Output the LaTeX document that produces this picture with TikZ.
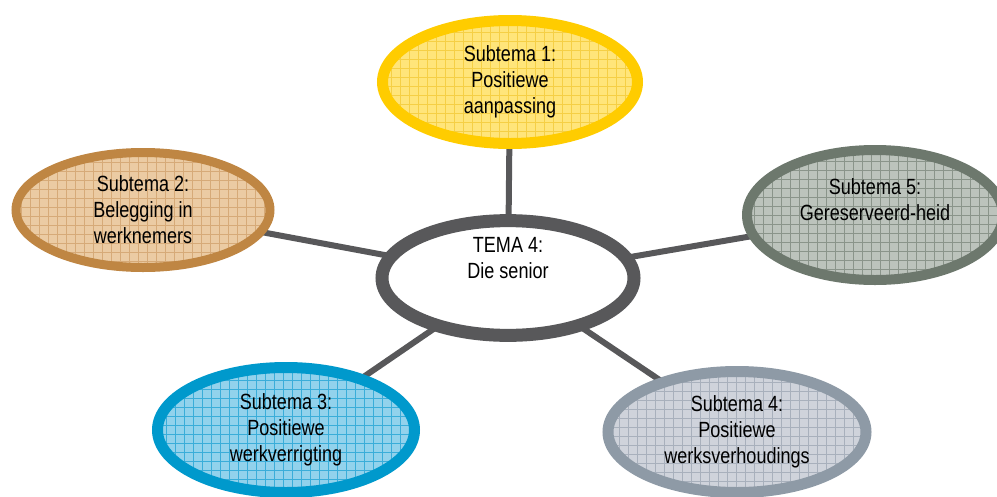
\documentclass[tikz,border=0pt]{standalone}
\usepackage{fontspec}
\setmainfont{Liberation Sans}[FakeStretch=0.82]
\usetikzlibrary{shapes.geometric}
\definecolor{cline}{HTML}{58585A}
\definecolor{ystroke}{HTML}{FFCC00}\definecolor{yfill}{HTML}{FFE57A}\definecolor{ygrid}{HTML}{F5CF45}
\definecolor{bstroke}{HTML}{BF8643}\definecolor{bfill}{HTML}{EBCBA3}\definecolor{bgrid}{HTML}{D6AA78}
\definecolor{gstroke}{HTML}{6D786D}\definecolor{gfill}{HTML}{BCC3BC}\definecolor{ggrid}{HTML}{8A948A}
\definecolor{lstroke}{HTML}{0099CC}\definecolor{lfill}{HTML}{92D2EC}\definecolor{lgrid}{HTML}{3AADD9}
\definecolor{sstroke}{HTML}{8E9AA6}\definecolor{sfill}{HTML}{CFD3DB}\definecolor{sgrid}{HTML}{A8B0BC}
\tikzset{
  bubble/.style args={#1/#2/#3}{ellipse, draw=#1, fill=#2, inner sep=0pt, align=center,
    font=\fontsize{22}{26}\selectfont, text=black,
    path picture={\draw[#3, line width=0.8pt, step=9pt]
      ([xshift=-4pt,yshift=-4pt]path picture bounding box.south west) grid
      ([xshift=4pt,yshift=4pt]path picture bounding box.north east);}},
  conn/.style={cline, line width=6pt},
  hub/.style={ellipse, draw=cline, fill=white, line width=13pt, inner sep=0pt, align=center,
    font=\fontsize{22}{26}\selectfont, minimum width=252pt, minimum height=112pt}
}
\begin{document}
\begin{tikzpicture}[x=1pt,y=-1pt]
\useasboundingbox (0,0) rectangle (997,496);
\coordinate (c0) at (508,278);
\coordinate (c1) at (510,82);
\coordinate (c2) at (143,210);
\coordinate (c5) at (875,215);
\coordinate (c3) at (286,430);
\coordinate (c4) at (737,432);
\draw[conn] (c0) -- (c1);
\draw[conn] (c0) -- (c2);
\draw[conn] (c0) -- (c5);
\draw[conn] (c0) -- (c3);
\draw[conn] (c0) -- (c4);
\node[bubble=ystroke/yfill/ygrid, line width=11pt, minimum width=255pt, minimum height=123pt] (s1) at (c1) {Subtema 1:\\Positiewe\\aanpassing};
\node[bubble=bstroke/bfill/bgrid, line width=9pt, minimum width=254pt, minimum height=115pt] (s2) at (c2) {Subtema 2:\\Belegging in\\werknemers};
\node[bubble=gstroke/gfill/ggrid, line width=10pt, minimum width=256pt, minimum height=130pt] (s5) at (c5) {Subtema 5:\\Gereserveerd-heid\\[4pt]\mbox{}};
\node[bubble=lstroke/lfill/lgrid, line width=11pt, minimum width=257pt, minimum height=125pt] (s3) at (c3) {Subtema 3:\\Positiewe\\werkverrigting};
\node[bubble=sstroke/sfill/sgrid, line width=11pt, minimum width=258pt, minimum height=121pt] (s4) at (c4) {Subtema 4:\\Positiewe\\werksverhoudings};
\node[hub] (t) at (c0) {TEMA 4:\\Die senior\\[14pt]\mbox{}};
\end{tikzpicture}
\end{document}
